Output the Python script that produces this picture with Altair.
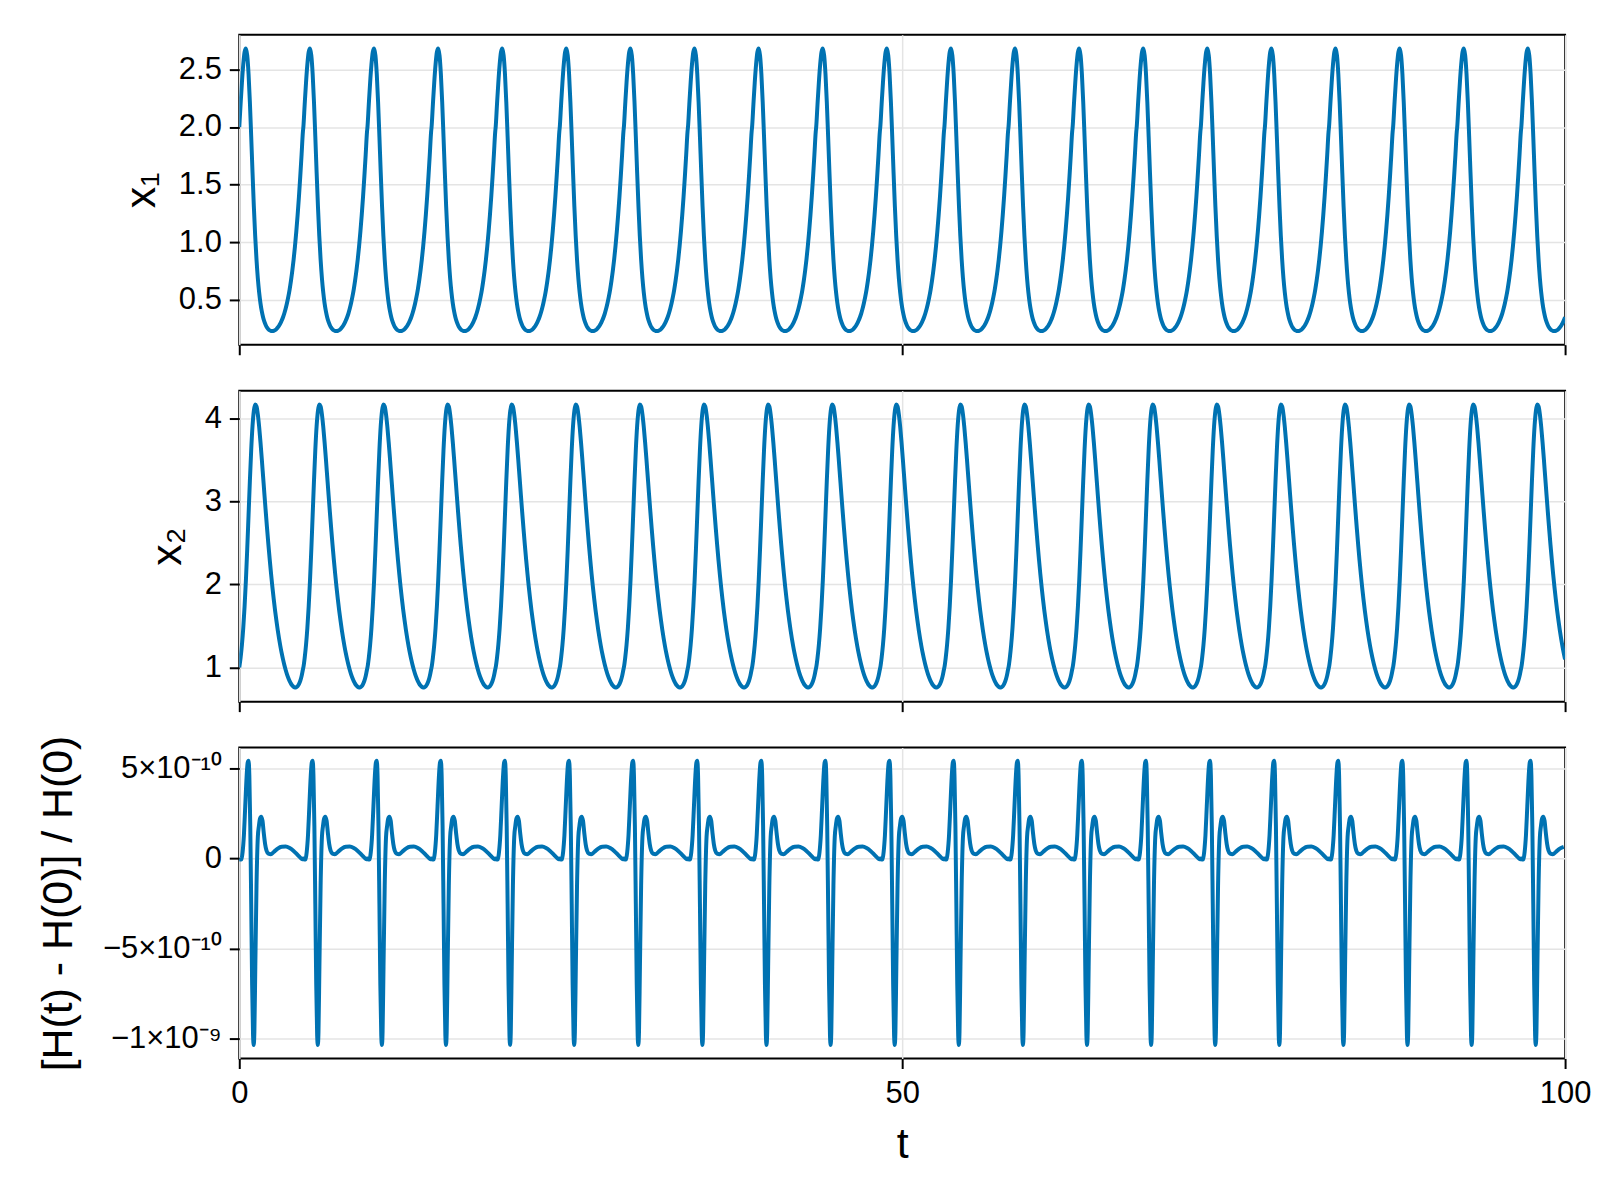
import altair as alt
import pandas as pd

# ---- data (one period of the periodic orbit, repeated) ----
PERIOD = 4.835
T_END = 100.0

CYCLE_T = [0.0, 0.1, 0.2, 0.3, 0.4, 0.5, 0.6, 0.7, 0.8, 0.9,
           1.0, 1.1, 1.2, 1.3, 1.4, 1.5, 1.6, 1.7, 1.8, 1.9,
           2.0, 2.1, 2.2, 2.3, 2.4, 2.5, 2.6, 2.7, 2.8, 2.9,
           3.0, 3.1, 3.2, 3.3, 3.4, 3.5, 3.6, 3.7, 3.8, 3.9,
           4.0, 4.1, 4.2, 4.3, 4.4, 4.5, 4.6, 4.7, 4.8]

X1_CYCLE = [2.000, 2.199, 2.386, 2.542, 2.649, 2.681, 2.620, 2.461, 2.217, 1.918,
            1.604, 1.310, 1.056, 0.850, 0.688, 0.565, 0.471, 0.401, 0.349, 0.310,
            0.281, 0.260, 0.246, 0.237, 0.232, 0.231, 0.233, 0.239, 0.248, 0.261,
            0.277, 0.297, 0.322, 0.351, 0.385, 0.426, 0.474, 0.529, 0.593, 0.668,
            0.753, 0.852, 0.964, 1.092, 1.235, 1.395, 1.571, 1.761, 1.959]

X2_CYCLE = [1.000, 1.117, 1.271, 1.473, 1.731, 2.048, 2.422, 2.832, 3.245, 3.616,
            3.905, 4.088, 4.162, 4.140, 4.044, 3.894, 3.709, 3.505, 3.291, 3.077,
            2.867, 2.665, 2.473, 2.292, 2.123, 1.965, 1.820, 1.686, 1.563, 1.451,
            1.348, 1.255, 1.171, 1.096, 1.029, 0.969, 0.917, 0.873, 0.835, 0.805,
            0.782, 0.766, 0.759, 0.761, 0.773, 0.798, 0.837, 0.895, 0.975]

H_PHASE = [0.00, 0.08, 0.16, 0.25, 0.35, 0.45, 0.55, 0.63, 0.70, 0.76,
           0.83, 0.90, 0.97, 1.04, 1.09, 1.14, 1.21, 1.30, 1.40, 1.48,
           1.56, 1.65, 1.75, 1.85, 1.95, 2.05, 2.20, 2.38, 2.60, 2.90,
           3.20, 3.50, 3.80, 4.10, 4.40, 4.60, 4.75]

H_CYCLE = [0.0, -0.06e-10, -0.04e-10, 0.35e-10, 1.3e-10, 2.9e-10, 4.5e-10, 5.3e-10, 5.42e-10, 4.6e-10,
           1.8e-10, -2.5e-10, -7.0e-10, -9.8e-10, -10.33e-10, -9.6e-10, -6.0e-10, -1.5e-10, 1.2e-10, 1.8e-10,
           2.2e-10, 2.32e-10, 2.1e-10, 1.4e-10, 0.8e-10, 0.45e-10, 0.27e-10, 0.24e-10, 0.36e-10, 0.55e-10,
           0.65e-10, 0.66e-10, 0.58e-10, 0.42e-10, 0.2e-10, 0.05e-10, -0.04e-10]

X_TICKS = [0, 50, 100]
X1_TICKS = [0.5, 1.0, 1.5, 2.0, 2.5]
X2_TICKS = [1, 2, 3, 4]
H_TICKS = [-1e-9, -5e-10, 0, 5e-10]


def build(phases, values):
    rows = []
    k = 0
    while k * PERIOD <= T_END:
        for ph, v in zip(phases, values):
            t = k * PERIOD + ph
            if t <= T_END + 1e-9:
                rows.append({"t": t, "v": v})
        k += 1
    return pd.DataFrame(rows)


df1 = build(CYCLE_T, X1_CYCLE)
df2 = build(CYCLE_T, X2_CYCLE)
df3 = build(H_PHASE, H_CYCLE)

FONT = "Liberation Sans"
BLUE = "#0072B2"
W = 1330
LABEL_FS = 31
TITLE_FS = 43


def common_axis(**kw):
    base = dict(
        tickSize=10,
        tickWidth=2,
        tickColor="black",
        labelFont=FONT,
        labelFontSize=LABEL_FS,
        labelColor="black",
        labelFlush=False,
        titleFont=FONT,
        titleFontSize=TITLE_FS,
        titleFontWeight="normal",
        titleColor="black",
        grid=True,
        gridColor="#e4e4e4",
        gridWidth=1.5,
        domain=False,
    )
    base.update(kw)
    return alt.Axis(**base)


def xaxis(bottom):
    return alt.X(
        "t:Q",
        scale=alt.Scale(domain=[0, 100], nice=False, zero=False),
        axis=common_axis(
            values=X_TICKS,
            title="t" if bottom else None,
            labels=bottom,
            format="d",
            labelPadding=10,
            titlePadding=15,
        ),
    )


def panel(df, title, domain, ticks, height, bottom=False, fmt=None, label_expr=None, title_pad=15):
    kw = dict(values=ticks, title=title, labelPadding=8, titlePadding=title_pad)
    if fmt:
        kw["format"] = fmt
    if label_expr:
        kw["labelExpr"] = label_expr
    return (
        alt.Chart(df)
        .mark_line(color=BLUE, strokeWidth=4, interpolate="monotone", clip=True)
        .encode(
            x=xaxis(bottom),
            y=alt.Y(
                "v:Q",
                scale=alt.Scale(domain=domain, nice=False, zero=False),
                axis=common_axis(**kw),
            ),
        )
        .properties(width=W, height=height)
    )


p1 = panel(df1, "x₁", [0.112, 2.80], X1_TICKS, 311, fmt=".1f")
p2 = panel(df2, "x₂", [0.588, 4.33], X2_TICKS, 312, fmt="d")
p3 = panel(
    df3,
    "[H(t) - H(0)] / H(0)",
    [-1.108e-9, 6.15e-10],
    H_TICKS,
    312,
    bottom=True,
    label_expr="datum.value > 4e-10 ? '5×10⁻¹⁰' : datum.value > -1e-10 ? '0' : datum.value > -7e-10 ? '−5×10⁻¹⁰' : '−1×10⁻⁹'",
    title_pad=22,
)

chart = (
    alt.vconcat(p1, p2, p3, spacing=46, bounds="flush")
    .properties(padding={"left": 28, "top": 24, "right": 0, "bottom": 5}, background="white")
    .configure_view(stroke="black", strokeWidth=2)
)

chart.save("out.html", embed_options={"renderer": "svg", "actions": False})
